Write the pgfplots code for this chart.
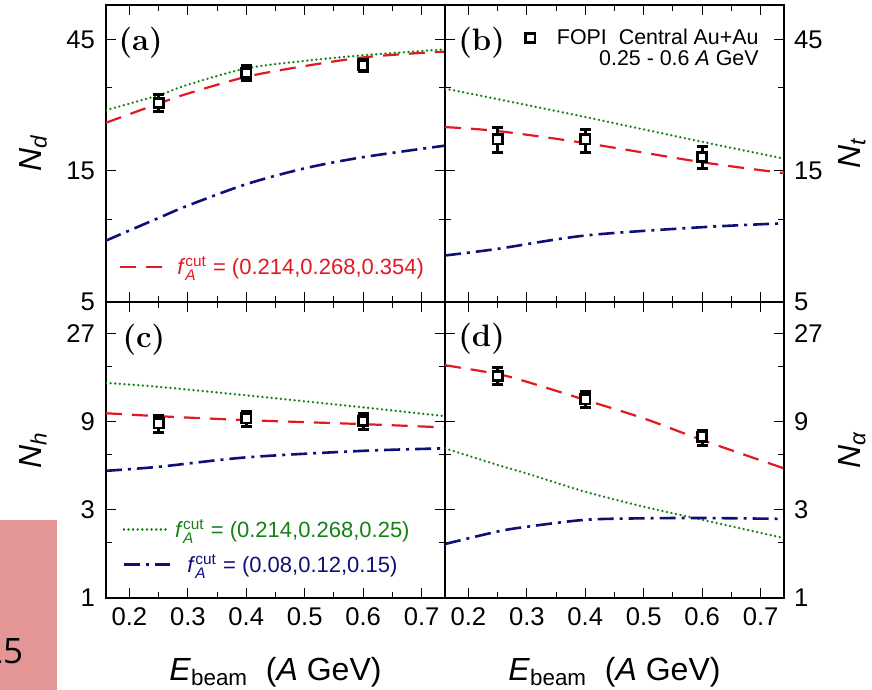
\documentclass[border=0pt]{standalone}
\usepackage{amsmath}
\usepackage{fontspec}
\setsansfont{Liberation Sans}
\newfontfamily\boxfont{Open Sans}
\usepackage{pgfplots}
\pgfplotsset{compat=1.18}
\definecolor{cred}{RGB}{225,25,35}
\definecolor{cgreen}{RGB}{20,130,20}
\definecolor{cblue}{RGB}{15,15,120}
\definecolor{pinkbox}{RGB}{228,150,150}
\newcommand{\fcut}{\textit{f}$^{\text{cut}}_{\textit{A}}$}
\newcommand{\tfont}{\sffamily\fontsize{12.8}{15}\selectfont}
\newcommand{\lfont}{\sffamily\fontsize{16}{19}\selectfont}
\newcommand{\gfont}{\sffamily\fontsize{11}{13}\selectfont}
\newcommand{\ffont}{\sffamily\fontsize{10.7}{10.9}\selectfont}
\newcommand{\pfont}{\rmfamily\bfseries\fontsize{15.5}{18}\selectfont}
\newcommand{\bfont}{\boxfont\fontsize{17.5}{20}\selectfont}
\newcommand{\T}[1]{\text{\tfont #1}}
\pgfplotsset{
  zzredc/.style={color=cred, line width=1.1pt, dash pattern=on 8pt off 5pt, smooth},
  zzgreenc/.style={color=cgreen, line width=1.3pt, line cap=round, dash pattern=on 0.01pt off 2.3pt, smooth},
  zzbluec/.style={color=cblue, line width=1.3pt, dash pattern=on 8pt off 3pt on 1.5pt off 3pt, smooth},
  zzdata/.style={only marks, mark=square*, mark size=2.3pt, mark options={fill=white, draw=black, line width=1.3pt, solid},
    error bars/y dir=both, error bars/y explicit, error bars/error bar style={line width=1.5pt, black, solid},
    error bars/error mark options={rotate=90, mark size=2.8pt, line width=1.5pt, black}},
}
\begin{document}
\begin{tikzpicture}
\useasboundingbox (0,0) rectangle (436pt,-345pt);
\begin{scope}
\clip (0,-260pt) rectangle (28.5pt,-345pt);
\fill[pinkbox] (0,-260pt) rectangle (28.5pt,-345pt);
\node[anchor=base east, inner sep=0pt] at (11.8pt,-331.5pt) {\bfont 25};
\end{scope}

% (a)
\begin{axis}[at={(53pt,-2.5pt)}, anchor=north west,
  scale only axis, width=169.5pt, height=148.5pt,
  xmin=0.16, xmax=0.74, ymode=log, ymin=5, ymax=60,
  xtick={0.2,0.3,0.4,0.5,0.6,0.7}, minor xtick={0.25,0.35,0.45,0.55,0.65}, xticklabels={},
  ytick={5,15,45}, yticklabels={\T{5},\T{15},\T{45}}, minor ytick={10,30},
  yticklabel style={xshift=-2pt},
  tick align=inside, major tick length=5pt, minor tick length=3pt,
  tick style={black, line width=0.5pt}, axis line style={line width=0.6pt},
  ylabel={\textit{N}$_{\textit{d}}$},
  ylabel style={at={(axis description cs:-0.215,0.5)}, anchor=center, font=\lfont},
  legend style={draw=none, fill=none, at={(0.02,0.118)}, anchor=west, font=\gfont},
  legend image code/.code={\draw[#1] (0pt,0pt) -- (26pt,0pt);}]
\addplot[zzredc] coordinates {(0.16,22.4) (0.25,26.3) (0.3,28.6) (0.4,32.9) (0.5,36.0) (0.6,38.7) (0.7,40.2) (0.74,40.6)};
\addlegendentry{\textcolor{cred}{\fcut\ = (0.214,0.268,0.354)}}
\addplot[zzgreenc, forget plot] coordinates {(0.16,24.9) (0.25,28.2) (0.3,30.8) (0.4,35.3) (0.5,37.6) (0.6,39.4) (0.74,41.4)};
\addplot[zzbluec, forget plot] coordinates {(0.16,8.36) (0.25,10.1) (0.3,11.2) (0.4,13.4) (0.5,15.3) (0.6,16.8) (0.74,18.5)};
\addplot[zzdata, forget plot] table[x index=0, y index=1, y error plus index=2, y error minus index=3] {
0.25 26.4 2.0 1.7
0.40 34.0 2.2 2.0
0.60 36.2 1.9 1.9
};
\node at (rel axis cs:0.102,0.874) {\pfont (a)};
\end{axis}

% (b)
\begin{axis}[at={(222.5pt,-2.5pt)}, anchor=north west,
  scale only axis, width=169.5pt, height=148.5pt,
  xmin=0.16, xmax=0.74, ymode=log, ymin=5, ymax=60,
  xtick={0.2,0.3,0.4,0.5,0.6,0.7}, minor xtick={0.25,0.35,0.45,0.55,0.65}, xticklabels={},
  ytick={5,15,45}, yticklabels={\T{5},\T{15},\T{45}}, minor ytick={10,30},
  yticklabel style={xshift=1.5pt},
  tick align=inside, major tick length=5pt, minor tick length=3pt,
  tick style={black, line width=0.5pt}, axis line style={line width=0.6pt},
  yticklabel pos=right,
  ylabel={\textit{N}$_{\textit{t}}$},
  ylabel style={at={(axis description cs:1.2,0.5)}, anchor=center, font=\lfont},
  legend style={draw=none, fill=none, at={(0.938,0.935)}, anchor=north east, inner sep=0pt, font=\ffont}]
\addplot[zzredc, forget plot] coordinates {(0.16,21.6) (0.25,20.9) (0.4,18.9) (0.6,16.1) (0.74,14.7)};
\addplot[zzgreenc, forget plot] coordinates {(0.16,29.8) (0.25,27.3) (0.4,23.5) (0.6,19.1) (0.74,16.6)};
\addplot[zzbluec, forget plot] coordinates {(0.16,7.38) (0.25,7.8) (0.4,8.72) (0.6,9.35) (0.74,9.66)};
\addplot[zzdata] table[x index=0, y index=1, y error plus index=2, y error minus index=3] {
0.25 19.5 2.0 2.1
0.40 19.5 1.7 2.0
0.60 16.8 1.5 1.5
};
\addlegendentry{\hspace*{9pt}\begin{tabular}[t]{@{}r@{}}FOPI\ \ Central Au+Au\\[-0.5pt]0.25 - 0.6 \textit{A} GeV\end{tabular}}
\node at (rel axis cs:0.108,0.874) {\pfont (b)};
\end{axis}

% (c)
\begin{axis}[at={(53pt,-151pt)}, anchor=north west,
  scale only axis, width=169.5pt, height=148pt,
  xmin=0.16, xmax=0.74, ymode=log, ymin=1, ymax=40,
  xtick={0.2,0.3,0.4,0.5,0.6,0.7}, minor xtick={0.25,0.35,0.45,0.55,0.65},
  xticklabels={\T{0.2},\T{0.3},\T{0.4},\T{0.5},\T{0.6},\T{0.7}},
  xticklabel style={yshift=-1.5pt},
  ytick={1,3,9,27}, yticklabels={\T{1},\T{3},\T{9},\T{27}}, minor ytick={2,6,18},
  yticklabel style={xshift=-2pt},
  tick align=inside, major tick length=5pt, minor tick length=3pt,
  tick style={black, line width=0.5pt}, axis line style={line width=0.6pt},
  xlabel={\textit{E}$_{\text{beam}}$\ \ (\textit{A} GeV)},
  xlabel style={at={(axis description cs:0.5,-0.277)}, anchor=base, font=\lfont},
  ylabel={\textit{N}$_{\textit{h}}$},
  ylabel style={at={(axis description cs:-0.215,0.5)}, anchor=center, font=\lfont},
  legend style={draw=none, fill=none, at={(0.03,0.172)}, anchor=west, font=\gfont, row sep=3pt},
  legend image code/.code={\draw[#1] (0pt,0pt) -- (23pt,0pt);}]
\addplot[zzredc, forget plot] coordinates {(0.16,10.0) (0.25,9.64) (0.4,9.18) (0.6,8.73) (0.74,8.38)};
\addplot[zzgreenc] coordinates {(0.16,14.6) (0.25,13.9) (0.4,12.5) (0.6,10.76) (0.74,9.64)};
\addlegendentry{\textcolor{cgreen}{\fcut\ = (0.214,0.268,0.25)}}
\addplot[zzbluec] coordinates {(0.16,4.88) (0.25,5.13) (0.4,5.77) (0.6,6.26) (0.74,6.46)};
\addlegendentry{\textcolor{cblue}{\fcut\ = (0.08,0.12,0.15)}}
\addplot[zzdata, forget plot] table[x index=0, y index=1, y error plus index=2, y error minus index=3] {
0.25 8.82 0.95 1.0
0.40 9.38 0.9 0.95
0.60 9.09 0.9 0.9
};
\node at (rel axis cs:0.112,0.872) {\pfont (c)};
\end{axis}

% (d)
\begin{axis}[at={(222.5pt,-151pt)}, anchor=north west,
  scale only axis, width=169.5pt, height=148pt,
  xmin=0.16, xmax=0.74, ymode=log, ymin=1, ymax=40,
  xtick={0.2,0.3,0.4,0.5,0.6,0.7}, minor xtick={0.25,0.35,0.45,0.55,0.65},
  xticklabels={\T{0.2},\T{0.3},\T{0.4},\T{0.5},\T{0.6},\T{0.7}},
  xticklabel style={yshift=-1.5pt},
  ytick={1,3,9,27}, yticklabels={\T{1},\T{3},\T{9},\T{27}}, minor ytick={2,6,18},
  yticklabel style={xshift=1.5pt},
  tick align=inside, major tick length=5pt, minor tick length=3pt,
  tick style={black, line width=0.5pt}, axis line style={line width=0.6pt},
  yticklabel pos=right,
  xlabel={\textit{E}$_{\text{beam}}$\ \ (\textit{A} GeV)},
  xlabel style={at={(axis description cs:0.5,-0.277)}, anchor=base, font=\lfont},
  ylabel={\textit{N}$_{\textit{α}}$},
  ylabel style={at={(axis description cs:1.2,0.5)}, anchor=center, font=\lfont}]
\addplot[zzredc] coordinates {(0.16,18.2) (0.25,16.3) (0.3,14.8) (0.4,11.8) (0.5,9.38) (0.6,7.16) (0.74,5.03)};
\addplot[zzgreenc] coordinates {(0.16,6.46) (0.25,5.25) (0.3,4.72) (0.4,3.76) (0.5,3.12) (0.6,2.65) (0.74,2.11)};
\addplot[zzbluec] coordinates {(0.16,1.96) (0.25,2.29) (0.3,2.43) (0.4,2.65) (0.5,2.70) (0.6,2.71) (0.74,2.68)};
\addplot[zzdata] table[x index=0, y index=1, y error plus index=2, y error minus index=3] {
0.25 15.9 1.7 1.6
0.40 11.9 1.15 1.15
0.60 7.46 0.65 0.8
};
\node at (rel axis cs:0.108,0.875) {\pfont (d)};
\end{axis}
\end{tikzpicture}
\end{document}
